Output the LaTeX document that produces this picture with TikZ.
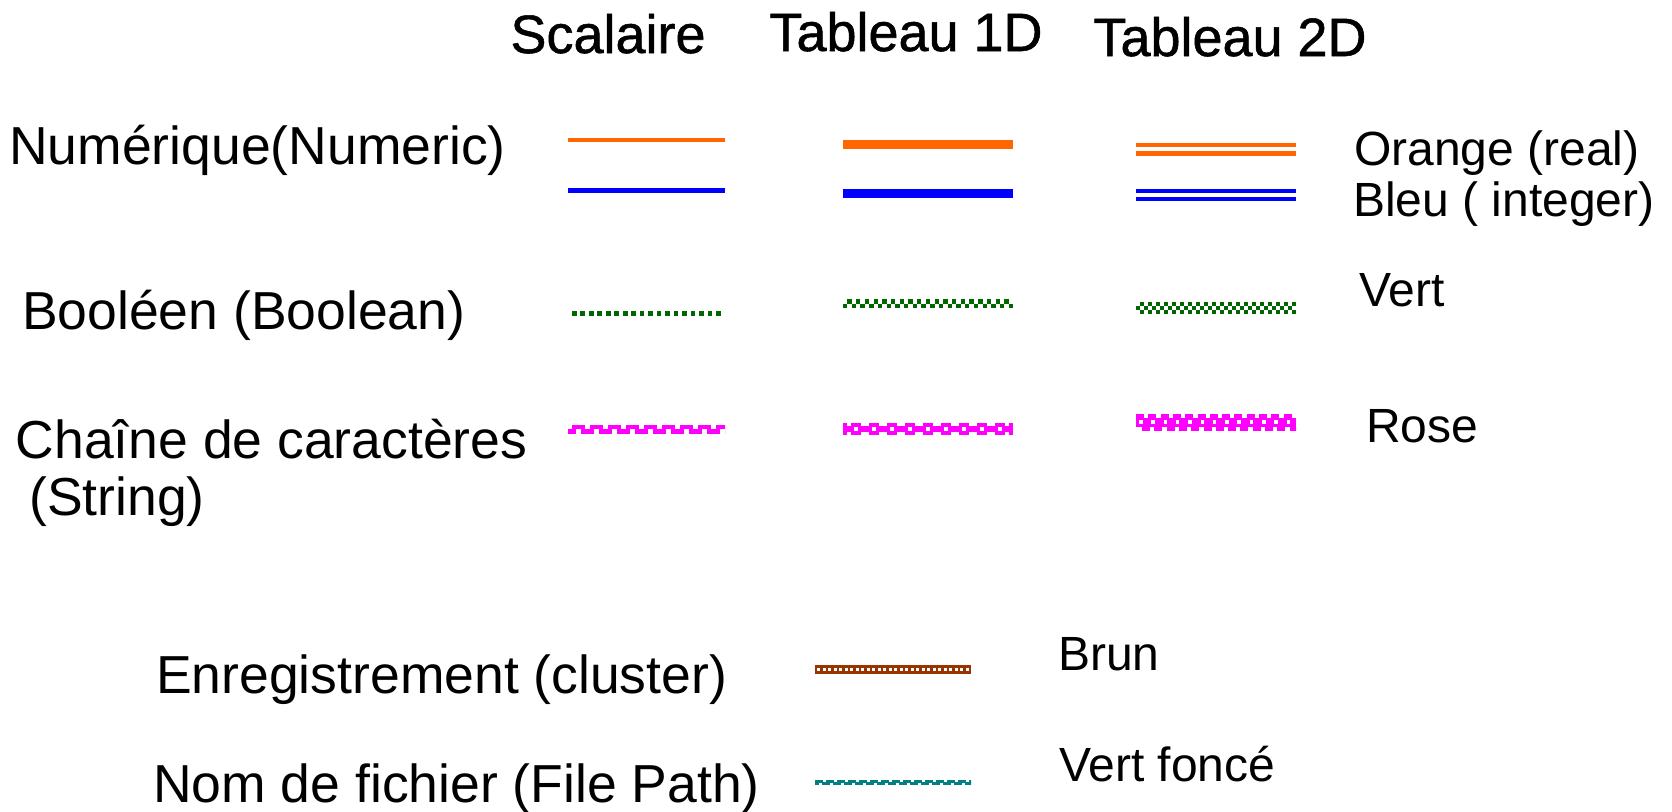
\documentclass[tikz,border=0pt]{standalone}
\usepackage{fontspec}
\setmainfont{Liberation Sans}
\newfontfamily\headfont[FakeBold=1]{Liberation Sans}
\definecolor{wOrange}{HTML}{FF6600}
\definecolor{wBlue}{HTML}{0000FF}
\definecolor{wGreen}{HTML}{006600}
\definecolor{wPink}{HTML}{FF00FF}
\definecolor{wBrown}{HTML}{993300}
\definecolor{wTeal}{HTML}{008080}
\begin{document}
\begin{tikzpicture}[x=1pt,y=-1pt,
  big/.style={inner sep=0pt, anchor=base west, font=\fontsize{53.5}{60}\selectfont},
  small/.style={inner sep=0pt, anchor=base west, font=\fontsize{48}{55}\selectfont},
  head/.style={inner sep=0pt, anchor=base, font=\headfont\fontsize{54}{60}\selectfont}]
\useasboundingbox (0,0) rectangle (1672,811);

% column headers
\node[head] (hScal) at (608,53) {Scalaire};
\node[head] (hOne)  at (906,51) {Tableau 1D};
\node[head] (hTwo)  at (1230,56) {Tableau 2D};

% row labels
\node[big] (lNum)  at (9,164)   {Numérique(Numeric)};
\node[big] (lBool) at (22,329)  {Booléen (Boolean)};
\node[big] (lStr)  at (15.5,458)  {Chaîne de caractères};
\node[big] (lStr2) at (29,515)  {(String)};
\node[big] (lClu)  at (156,693) {Enregistrement (cluster)};
\node[big] (lPath) at (153,802) {Nom de fichier (File Path)};

% colour names
\node[small] (cOr)  at (1354,165)  {Orange (real)};
\node[small] (cBl)  at (1353,216)  {Bleu ( integer)};
\node[small] (cVe)  at (1359,306)  {Vert};
\node[small] (cRo)  at (1366,442)  {Rose};
\node[small] (cBr)  at (1058,670)  {Brun};
\node[small] (cVf)  at (1059,781)  {Vert foncé};

% numeric wires
\fill[wOrange] (568,138) rectangle (725,142);
\fill[wBlue]   (568,188) rectangle (725,192.5);
\fill[wOrange] (843,140) rectangle (1013,149);
\fill[wBlue]   (843,189) rectangle (1013,198);
\fill[wOrange] (1136,143) rectangle (1296,147);
\fill[wOrange] (1136,151) rectangle (1296,156);
\fill[wBlue]   (1136,189) rectangle (1296,193);
\fill[wBlue]   (1136,197) rectangle (1296,201);

% boolean wires
\foreach \i in {0,...,17}
  \fill[wGreen] ({572+\i*8.47},311) rectangle ++(4.7,5);
\foreach \i in {0,2,...,38}
  \fill[wGreen] ({843+\i*4.359},303.5) rectangle ++(4.359,4.5);
\foreach \i in {1,3,...,37}
  \fill[wGreen] ({843+\i*4.359},299) rectangle ++(4.359,4.5);
\foreach \i in {0,2,...,38}
  \fill[wGreen] ({1136+\i*4},306) rectangle ++(4,4);
\foreach \i in {1,3,...,39}{
  \fill[wGreen] ({1136+\i*4},302) rectangle ++(4,4);
  \fill[wGreen] ({1136+\i*4},310) rectangle ++(4,4);
}

% string wires
\begin{scope}
  \clip (568,420) rectangle (725,440);
  \foreach \k in {0,...,8}
    \fill[wPink] ({572+18*\k},425) rectangle ++(13,4);
  \foreach \k in {-1,...,8}
    \fill[wPink] ({581+18*\k},429) rectangle ++(13,5);
\end{scope}
\fill[wPink] (843,426) rectangle (1013,432);
\fill[wPink] (843,423) rectangle (847,435);
\fill[wPink] (1009,423) rectangle (1013,435);
\foreach \k in {0,...,8}{
  \fill[wPink] ({851+18*\k},423) rectangle ++(10,12);
  \fill[white] ({854+18*\k},427) rectangle ++(4,4);
}
\begin{scope}
  \clip (1136,410) rectangle (1296,435);
  \foreach \k in {0,...,12}{
    \fill[wPink] ({1136+12.3*\k},414) rectangle ++(8,4);
    \fill[wPink] ({1136+12.3*\k},418) rectangle ++(12.3,9);
    \fill[white] ({1139+12.3*\k},420) rectangle ++(3.5,4);
    \fill[wPink] ({1142+12.3*\k},427) rectangle ++(8,4);
  }
\end{scope}

% cluster wire
\fill[wBrown] (815,665) rectangle (971,674);
\foreach \k in {0,...,27}
  \fill[white] ({817+5.5*\k},668) rectangle ++(3,3);

% path wire
\begin{scope}
  \clip (815,775) rectangle (971,790);
  \foreach \k in {0,...,14}{
    \fill[wTeal] ({815+11*\k},780) rectangle ++(8,2.5);
    \fill[wTeal] ({810.5+11*\k},782) rectangle ++(8,3);
  }
\end{scope}
\end{tikzpicture}
\end{document}
